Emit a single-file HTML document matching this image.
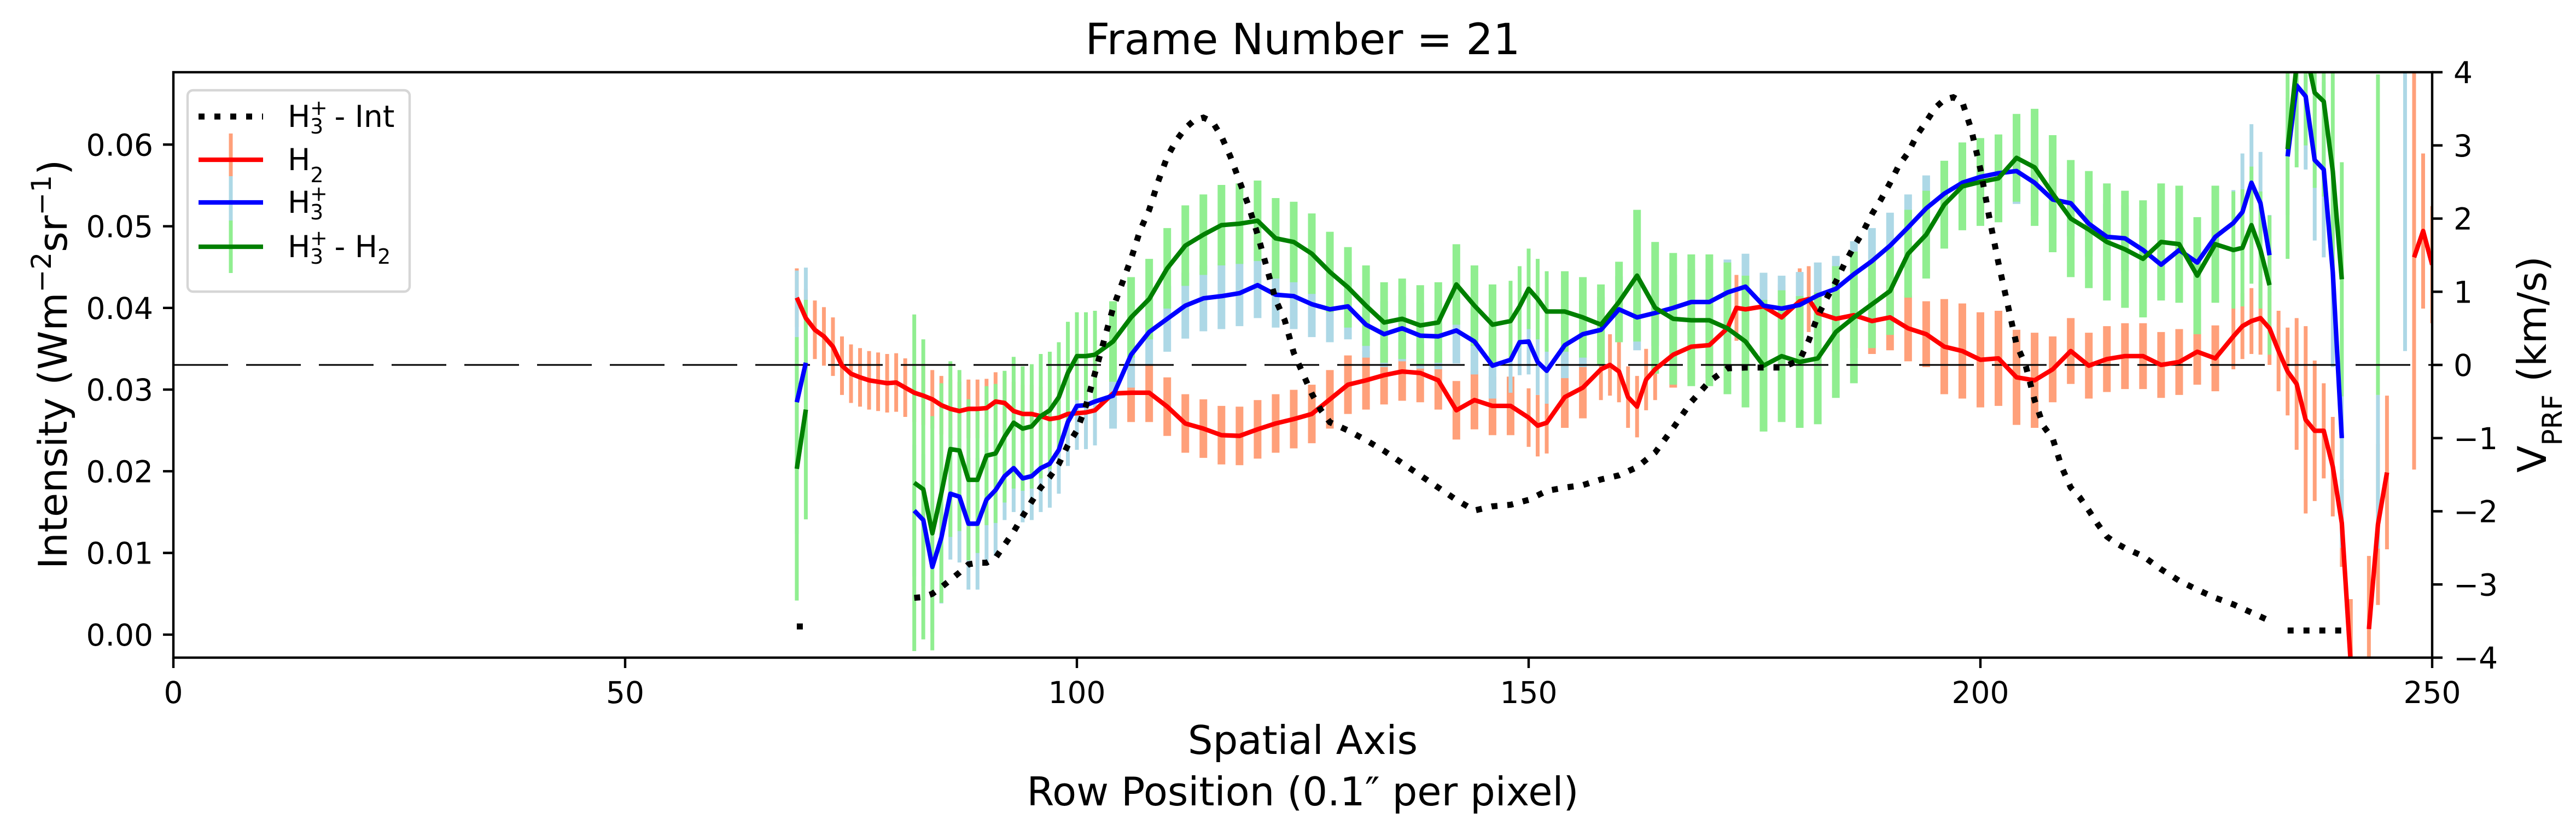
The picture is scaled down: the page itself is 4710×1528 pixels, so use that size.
<!DOCTYPE html>
<html><head><meta charset="utf-8"><style>
html,body{margin:0;padding:0;background:#fff;}
svg{display:block;font-family:"DejaVu Sans","Liberation Sans",sans-serif;}
</style></head><body>
<svg id="chart" xmlns="http://www.w3.org/2000/svg" width="4710" height="1528" viewBox="0 0 4710 1528">
<rect x="0" y="0" width="4710" height="1528" fill="#fff"/>
<defs><clipPath id="clip"><rect x="317" y="132" width="4130" height="1070"/></clipPath></defs>
<g id="bars" clip-path="url(#clip)"></g>
<g id="lines" clip-path="url(#clip)"></g>
<g id="axes"></g>
<g id="legend"></g>
</svg>
<script>
// ---- data ----
const xTicks=[0,50,100,150,200,250];
const yLeftTicks=[0,0.01,0.02,0.03,0.04,0.05,0.06];
const yLeftLabels=["0.00","0.01","0.02","0.03","0.04","0.05","0.06"];
const yRightTicks=[4,3,2,1,0,-1,-2,-3,-4];
const yRightLabels=["4","3","2","1","0","\u22121","\u22122","\u22123","\u22124"];

const intX=[69,70,null,82,83,84,85,86,87,88,89,90,91,92,93,94,95,96,97,98,99,100,101,102,103,104,105,106,107,108,109,110,111,112,113,114,115,116,117,118,119,120,121,122,123,124,125,126,127,128,130,132,134,136,138,140,142,144,146,148,150,152,154,156,158,160,162,164,166,168,170,172,174,176,178,180,181,182,183,184,185,186,187,188,189,190,191,192,193,194,195,196,197,198,199,200,201,202,203,204,205,206,207,208,209,210,211,212,213,214,215,216,217,218,219,220,222,224,226,228,230,232,null,234,236,238,240];
const intV=[0.001,0.001,null,0.0045,0.0046,0.005,0.0058,0.0067,0.0076,0.0086,0.0088,0.0088,0.0094,0.011,0.0126,0.0145,0.0163,0.018,0.0193,0.0209,0.0232,0.025,0.028,0.032,0.036,0.040,0.043,0.046,0.0495,0.052,0.0555,0.0585,0.0605,0.062,0.063,0.0633,0.0628,0.061,0.0585,0.0555,0.0525,0.049,0.045,0.041,0.0385,0.0345,0.032,0.0295,0.0275,0.026,0.025,0.0238,0.0225,0.021,0.0195,0.018,0.0165,0.0152,0.0157,0.0159,0.0165,0.0176,0.018,0.0183,0.019,0.0195,0.0205,0.0223,0.0253,0.0285,0.031,0.0326,0.0327,0.0327,0.0327,0.0336,0.036,0.039,0.0412,0.0432,0.0455,0.0475,0.0493,0.0515,0.0533,0.0553,0.0575,0.059,0.0612,0.0628,0.0645,0.0655,0.0658,0.0652,0.0618,0.057,0.051,0.0455,0.0405,0.0355,0.033,0.0287,0.0255,0.024,0.0205,0.018,0.0168,0.0152,0.0135,0.012,0.0112,0.0106,0.0101,0.0096,0.0088,0.008,0.0066,0.0055,0.0045,0.0037,0.0027,0.0017,null,0.0005,0.0005,0.0005,0.0005];

const h2X=[69,70,71,72,73,74,75,76,77,78,79,80,81,82,83,84,85,86,87,88,89,90,91,92,93,94,95,96,97,98,99,100,101,102,
104,106,108,110,112,114,116,118,120,122,124,126,128,130,132,134,136,138,140,142,144,146,148,150,
151,152,154,156,158,159,160,161,162,163,164,
166,168,170,172,173,174,176,178,180,181,182,
184,186,188,190,192,194,196,198,200,202,204,206,208,210,212,214,216,218,220,222,224,226,228,
229,230,231,232,233,234,235,236,237,238,239,240,241,null,243,244,245,null,248,249,250];
const h2V=[.92,.64,.48,.39,.25,-.01,-.12,-.17,-.21,-.23,-.25,-.24,-.31,-.38,-.42,-.47,-.55,-.6,-.63,-.6,-.6,-.59,-.5,-.52,-.63,-.67,-.67,-.7,-.74,-.72,-.67,-.66,-.65,-.62,
-.39,-.38,-.38,-.57,-.8,-.87,-.96,-.97,-.88,-.8,-.74,-.67,-.47,-.27,-.21,-.14,-.09,-.11,-.21,-.62,-.48,-.56,-.56,-.72,
-.83,-.79,-.44,-.31,-.06,0,-.09,-.44,-.57,-.2,-.06,
.14,.25,.27,.5,.78,.76,.8,.65,.87,.9,.71,
.63,.68,.6,.65,.5,.42,.25,.19,.07,.09,-.17,-.21,-.06,.19,-.01,.08,.12,.12,0,.04,.18,.09,.39,
.53,.6,.64,.5,.19,-.09,-.26,-.75,-.9,-.9,-1.39,-2.16,-4.1,null,-3.61,-2.18,-1.47,null,1.47,1.83,1.37];
const h2Err=[.4,.4,.4,.4,.4,.4,.4,.4,.4,.4,.4,.4,.4,.4,.4,.4,.4,.4,.4,.4,.4,.4,.4,.4,.4,.4,.4,.4,.4,.4,.4,.4,.4,.4,
.4,.4,.4,.4,.4,.4,.4,.4,.4,.4,.4,.4,.4,.4,.4,.4,.4,.4,.4,.4,.4,.4,.4,.4,
.42,.42,.42,.42,.42,.42,.42,.42,.42,.42,.42,
.45,.45,.45,.45,.45,.45,.45,.45,.45,.45,.45,
.45,.45,.45,.45,.45,.45,.65,.65,.65,.65,.65,.65,.45,.45,.45,.45,.45,.45,.45,.45,.45,.45,.45,
.45,.45,.5,.5,.55,.6,.9,1.28,.96,.65,.68,.6,.9,null,1.0,1.1,1.05,null,2.9,1.06,.8];

const h3X=[69,70,null,82,83,84,85,86,87,88,89,90,91,92,93,94,95,96,97,98,99,100,101,102,
104,106,108,110,112,114,116,118,120,122,124,126,128,130,132,134,136,138,140,142,144,146,
148,149,150,151,152,
154,156,158,160,162,164,166,168,170,172,174,176,178,180,182,184,186,188,190,192,194,196,198,200,202,204,206,208,210,212,214,216,218,220,222,224,226,228,
229,230,231,232,null,234,235,236,237,238,239,240,null,244,null,247];
const h3V=[-.51,.03,null,-1.99,-2.12,-2.76,-2.36,-1.76,-1.8,-2.17,-2.17,-1.84,-1.71,-1.52,-1.41,-1.55,-1.52,-1.41,-1.35,-1.16,-.78,-.56,-.55,-.5,
-.42,.14,.45,.63,.81,.91,.94,.98,1.09,.96,.94,.83,.76,.8,.55,.42,.5,.4,.39,.47,.32,-.01,
.07,.31,.32,.04,-.08,
.27,.42,.48,.76,.65,.71,.78,.86,.86,.99,1.07,.81,.77,.82,.95,1.04,1.24,1.42,1.63,1.88,2.14,2.34,2.49,2.57,2.62,2.65,2.49,2.26,2.21,1.93,1.75,1.73,1.57,1.37,1.57,1.4,1.75,1.94,
2.09,2.49,2.21,1.5,null,2.85,3.82,3.67,2.8,2.67,1.27,-1.0,null,-1.46,null,2.09];
const h3Err=[1.8,1.3,null,.9,.9,.9,.9,.9,.9,.9,.9,.9,.9,.6,.6,.6,.6,.6,.6,.6,.6,.6,.6,.6,
.45,.45,.45,.45,.45,.45,.45,.45,.45,.45,.45,.45,.45,.45,.45,.45,.45,.45,.45,.45,.45,.45,
.45,.45,.45,.45,.45,
.45,.45,.45,.45,.45,.45,.45,.45,.45,.45,.45,.45,.45,.45,.45,.45,.45,.45,.45,.45,.45,.45,.45,.45,.45,.45,.45,.45,.45,.45,.45,.45,.45,.45,.45,.45,.45,.45,
.8,.8,.7,.55,null,.8,.9,1.0,1.1,1.2,1.3,1.5,null,1.05,null,1.9];

const diffV=[-1.42,-.61,null,-1.61,-1.7,-2.3,-1.75,-1.15,-1.17,-1.57,-1.57,-1.24,-1.21,-.98,-.79,-.87,-.84,-.7,-.62,-.44,-.11,.12,.12,.14,
.32,.65,.9,1.32,1.63,1.78,1.91,1.93,1.97,1.73,1.68,1.52,1.27,1.06,.81,.58,.63,.54,.58,1.1,.81,.55,
.6,.8,1.04,.9,.73,
.73,.65,.55,.86,1.22,.78,.63,.61,.61,.5,.32,-.01,.12,.04,.09,.45,.65,.83,1.01,1.52,1.78,2.19,2.44,2.5,2.55,2.83,2.7,2.34,2.0,1.85,1.68,1.58,1.45,1.68,1.65,1.22,1.65,1.57,
1.6,1.91,1.57,1.09,null,2.95,4.1,4.3,3.72,3.6,2.65,1.17,null,1.78,null,null];
const diffErr=[1.8,1.5,null,2.3,2.05,1.6,1.5,1.2,1.1,1.1,1.0,.95,.95,.9,.9,.85,.85,.85,.8,.75,.7,.6,.6,.6,
.55,.55,.55,.55,.55,.55,.55,.55,.55,.55,.55,.55,.55,.55,.55,.55,.55,.55,.55,.55,.55,.55,
.55,.55,.55,.55,.55,
.55,.55,.55,.55,.9,.9,.9,.9,.9,.9,.9,.9,.9,.9,.9,.9,.9,.6,.6,.6,.6,.6,.6,.6,.6,.6,.8,.8,.8,.8,.8,.8,.8,.8,.8,.8,.8,.8,
.8,.8,.8,.95,null,1.5,1.4,1.3,1.3,1.3,1.4,1.6,null,2.19,null,null];

// ---- scales ----
const PL=317,PR=4447,PT=132,PB=1202;
function xs(d){return PL+d*(PR-PL)/250;}
const IMIN=-0.00282,IMAX=0.06886;
function yL(v){return PB-(v-IMIN)*(PB-PT)/(IMAX-IMIN);}
function yR(v){return PB-(v+4)*(PB-PT)/8;}

const NS="http://www.w3.org/2000/svg";
function mk(tag,attrs,parent){const e=document.createElementNS(NS,tag);for(const k in attrs)e.setAttribute(k,attrs[k]);parent.appendChild(e);return e;}
const gBars=document.getElementById('bars'),gLines=document.getElementById('lines'),gAxes=document.getElementById('axes'),gLeg=document.getElementById('legend');

function drawBars(X,V,E,color,name){
  for(let i=0;i<X.length;i++){
    if(X[i]===null||V[i]===null||E[i]===null)continue;
    let sp=2;const p=X[i-1],n=X[i+1];
    const ds=[];if(p!=null&&V[i-1]!=null)ds.push(X[i]-p);if(n!=null&&V[i+1]!=null)ds.push(n-X[i]);
    sp=ds.length?Math.min(2,Math.min(...ds)):1;
    const x=xs(X[i]);
    const b=mk('line',{x1:x,x2:x,y1:yR(V[i]-E[i]),y2:yR(V[i]+E[i]),stroke:color,'stroke-width':7*sp},gBars);
    
    
  }
}
function pathFor(X,V,yf){
  let d='',pen=false;
  for(let i=0;i<X.length;i++){
    if(X[i]===null||V[i]===null){pen=false;continue;}
    d+=(pen?'L':'M')+xs(X[i]).toFixed(1)+' '+yf(V[i]).toFixed(1)+' ';pen=true;
  }
  return d;
}
drawBars(h2X,h2V,h2Err,'#ffa07a','h2-error-bar');
drawBars(h3X,h3V,h3Err,'#add8e6','h3-error-bar');
drawBars(h3X,diffV,diffErr,'#90ee90','h3-h2-error-bar');

const zl=mk('line',{x1:PL,x2:PR,y1:yR(0),y2:yR(0),stroke:'#000','stroke-width':3,'stroke-dasharray':'100 33'},gLines);



const lr=mk('path',{d:pathFor(h2X,h2V,yR),fill:'none',stroke:'#ff0000','stroke-width':8.3,'stroke-linejoin':'round'},gLines);


const lb=mk('path',{d:pathFor(h3X,h3V,yR),fill:'none',stroke:'#0000ff','stroke-width':8.3,'stroke-linejoin':'round'},gLines);


const lg=mk('path',{d:pathFor(h3X,diffV,yR),fill:'none',stroke:'#008000','stroke-width':8.3,'stroke-linejoin':'round'},gLines);


const li=mk('path',{d:pathFor(intX,intV,yL),fill:'none',stroke:'#000','stroke-width':11,'stroke-dasharray':'11 18'},gLines);



const fr=mk('rect',{x:PL,y:PT,width:PR-PL,height:PB-PT,fill:'none',stroke:'#000','stroke-width':4.4},gAxes);


function txt(s,attrs,name){const t=mk('text',attrs,gAxes);t.textContent=s;return t;}
xTicks.forEach(v=>{
  const x=xs(v);
  const tk=mk('line',{x1:x,x2:x,y1:PB,y2:PB+19,stroke:'#000','stroke-width':4.4},gAxes);
  
  
  txt(String(v),{x:x,y:1285,'font-size':55,'text-anchor':'middle'},'x-tick-label');
});
yLeftTicks.forEach((v,i)=>{
  const y=yL(v);
  const tk=mk('line',{x1:PL-19,x2:PL,y1:y,y2:y,stroke:'#000','stroke-width':4.4},gAxes);
  
  
  txt(yLeftLabels[i],{x:280,y:y+20,'font-size':55,'text-anchor':'end'},'y-left-tick-label');
});
yRightTicks.forEach((v,i)=>{
  const y=yR(v);
  const tk=mk('line',{x1:PR,x2:PR+19,y1:y,y2:y,stroke:'#000','stroke-width':4.4},gAxes);
  
  
  txt(yRightLabels[i],{x:4486,y:y+20,'font-size':55,'text-anchor':'start'},'y-right-tick-label');
});
</script>
<script>
const NS2="http://www.w3.org/2000/svg";
function addText(parent,x,y,size,anchor,parts,name,rotate){
  const t=document.createElementNS(NS2,'text');
  t.setAttribute('x',x);t.setAttribute('y',y);t.setAttribute('font-size',size);t.setAttribute('text-anchor',anchor);
  if(rotate)t.setAttribute('transform','rotate(-90 '+x+' '+y+')');
  parts.forEach(p=>{const s=document.createElementNS(NS2,'tspan');s.textContent=p[0];
    if(p[1])s.setAttribute('baseline-shift',p[1]);if(p[2])s.setAttribute('font-size',p[2]);if(p[3])s.setAttribute('dx',p[3]);t.appendChild(s);});
  
  
  parent.appendChild(t);return t;
}
const ax=document.getElementById('axes');
addText(ax,2382,99,78,'middle',[["Frame Number = 21"]],'chart-title');
addText(ax,2382,1378,72,'middle',[["Spatial Axis"]],'x-axis-title');
addText(ax,2382,1472,72,'middle',[["Row Position (0.1\u2033 per pixel)"]],'x-axis-subtitle');
addText(ax,122,666,72,'middle',[["Intensity (Wm"],["\u22122","super","50"],["sr"],["\u22121","super","50"],[")"]],'y-left-axis-title',true);
addText(ax,4655,666,72,'middle',[["V"],["PRF","sub","50"],[" (km/s)"]],'y-right-axis-title',true);

const lgd=document.getElementById('legend');
const box=document.createElementNS(NS2,'rect');
box.setAttribute('x',343);box.setAttribute('y',165);box.setAttribute('width',406);box.setAttribute('height',368);
box.setAttribute('rx',10);box.setAttribute('fill','#fff');box.setAttribute('fill-opacity','0.8');box.setAttribute('stroke','#d6d6d6');box.setAttribute('stroke-width',4.4);


lgd.appendChild(box);
function legLine(y,color,dash,w){const l=document.createElementNS(NS2,'line');l.setAttribute('x1',363);l.setAttribute('x2',481);l.setAttribute('y1',y);l.setAttribute('y2',y);l.setAttribute('stroke',color);l.setAttribute('stroke-width',w);if(dash)l.setAttribute('stroke-dasharray',dash);lgd.appendChild(l);return l;}
function legBar(y,color){const l=document.createElementNS(NS2,'line');l.setAttribute('x1',422);l.setAttribute('x2',422);l.setAttribute('y1',y-48);l.setAttribute('y2',y+48);l.setAttribute('stroke',color);l.setAttribute('stroke-width',7);lgd.appendChild(l);return l;}
const rows=[[292,'#ff0000','#ffa07a','legend-entry-h2'],[370,'#0000ff','#add8e6','legend-entry-h3'],[451,'#008000','#90ee90','legend-entry-h3-minus-h2']];
const d0=legLine(213,'#000','11 18',11);


rows.forEach(r=>{const b=legBar(r[0],r[2]);
  const l=legLine(r[0],r[1],null,8.3);});
function h3label(x,y,rest,name){
  const g=document.createElementNS(NS2,'g');
  
  
  lgd.appendChild(g);
  const mk2=(s,xx,yy,fs)=>{const t=document.createElementNS(NS2,'text');t.setAttribute('x',xx);t.setAttribute('y',yy);t.setAttribute('font-size',fs);t.textContent=s;g.appendChild(t);return t;};
  mk2('H',x,y,55);mk2('+',x+41,y-22,38);mk2('3',x+41,y+12,38);
  if(rest){const t=mk2(rest[0],x+68,y,55);if(rest[1]){const s=document.createElementNS(NS2,'tspan');s.setAttribute('font-size',38);s.setAttribute('dy',12);s.textContent=rest[1];t.appendChild(s);}}
}
h3label(526,232,['\u00a0- Int'],'legend-label-intensity');
addText(lgd,526,311,55,'start',[["H"],["2","sub","38"]],'legend-label-h2');
h3label(526,389,null,'legend-label-h3');
h3label(526,470,['\u00a0- H','2'],'legend-label-h3-minus-h2');
</script>
</body></html>
